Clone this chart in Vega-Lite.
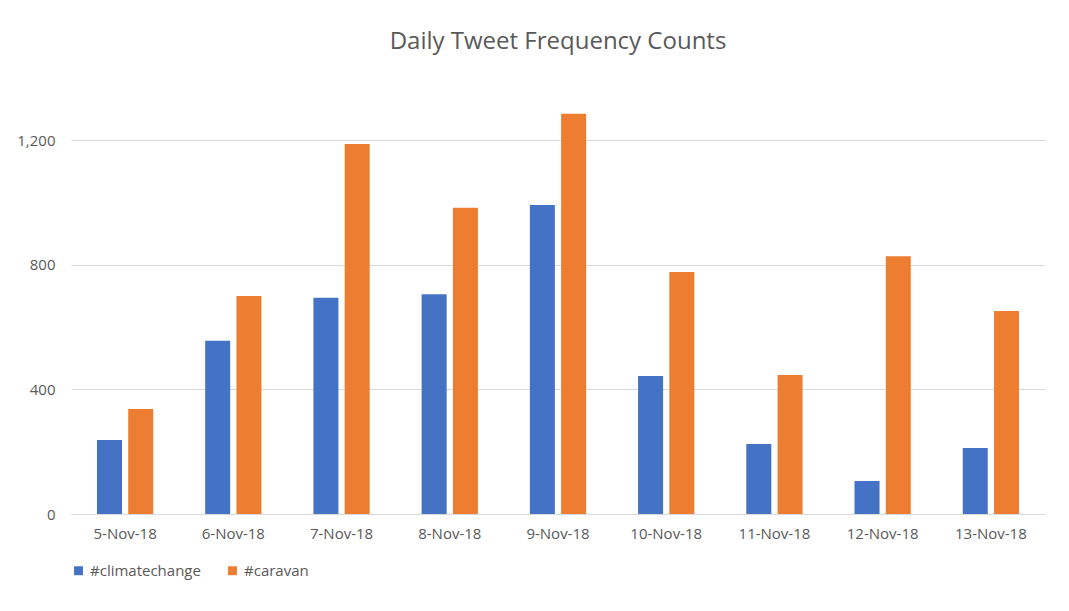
{
  "$schema": "https://vega.github.io/schema/vega-lite/v6.json",
  "autosize": {"type": "none"},
  "width": 974,
  "height": 436,
  "padding": {"left": 71, "top": 78, "right": 24, "bottom": 97},
  "background": "white",
  "title": {"text": "Daily Tweet Frequency Counts", "fontSize": 24, "font": "Open Sans", "fontWeight": "normal", "color": "#595959", "offset": 24},
  "data": {
    "values": [
      {"date": "5-Nov-18", "tag": "#climatechange", "count": 238},
      {"date": "5-Nov-18", "tag": "#caravan", "count": 337},
      {"date": "6-Nov-18", "tag": "#climatechange", "count": 556},
      {"date": "6-Nov-18", "tag": "#caravan", "count": 700},
      {"date": "7-Nov-18", "tag": "#climatechange", "count": 694},
      {"date": "7-Nov-18", "tag": "#caravan", "count": 1188},
      {"date": "8-Nov-18", "tag": "#climatechange", "count": 706},
      {"date": "8-Nov-18", "tag": "#caravan", "count": 983},
      {"date": "9-Nov-18", "tag": "#climatechange", "count": 992},
      {"date": "9-Nov-18", "tag": "#caravan", "count": 1285},
      {"date": "10-Nov-18", "tag": "#climatechange", "count": 443},
      {"date": "10-Nov-18", "tag": "#caravan", "count": 777},
      {"date": "11-Nov-18", "tag": "#climatechange", "count": 225},
      {"date": "11-Nov-18", "tag": "#caravan", "count": 446},
      {"date": "12-Nov-18", "tag": "#climatechange", "count": 106},
      {"date": "12-Nov-18", "tag": "#caravan", "count": 828},
      {"date": "13-Nov-18", "tag": "#climatechange", "count": 212},
      {"date": "13-Nov-18", "tag": "#caravan", "count": 652}
    ]
  },
  "mark": "bar",
  "encoding": {
    "x": {
      "field": "date", "type": "nominal", "sort": null, "title": null,
      "scale": {"paddingInner": 0.48, "paddingOuter": 0.24},
      "axis": {"labelAngle": 0, "ticks": false, "domainColor": "#d9d9d9", "labelPadding": 12}
    },
    "xOffset": {"field": "tag", "sort": ["#climatechange", "#caravan"], "scale": {"paddingInner": 0.2}},
    "y": {
      "field": "count", "type": "quantitative", "title": null,
      "scale": {"domain": [0, 1400]},
      "axis": {"tickCount": 7, "values": [0,200,400,600,800,1000,1200,1400], "domain": false, "ticks": false, "gridColor": "#d9d9d9", "labelPadding": 16}
    },
    "color": {
      "field": "tag", "type": "nominal", "sort": ["#climatechange", "#caravan"], "title": null,
      "scale": {"domain": ["#climatechange", "#caravan"], "range": ["#4472C4", "#ED7D31"]},
      "legend": {"orient": "bottom", "direction": "horizontal", "symbolType": "square", "symbolSize": 80, "offset": 22, "columnPadding": 24}
    }
  },
  "config": {
    "font": "Open Sans",
    "view": {"stroke": null},
    "axis": {"labelFontSize": 15, "labelColor": "#595959", "labelFont": "Open Sans"},
    "legend": {"labelFontSize": 15, "labelColor": "#595959", "labelFont": "Open Sans"}
  }
}
